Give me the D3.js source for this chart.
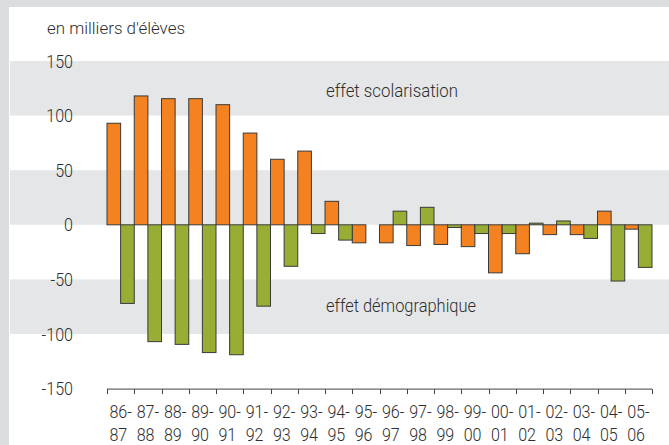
<!DOCTYPE html>
<html><head><meta charset="utf-8">
<script src="https://cdn.jsdelivr.net/npm/d3@7/dist/d3.min.js"></script>
<style>
html,body{margin:0;padding:0;background:#fff;}
svg{display:block;}
text{font-family:Roboto,"Noto Sans",sans-serif;font-weight:300;fill:#2e2e2e;}
</style></head>
<body>
<script>
const categories = ["86-87","87-88","88-89","89-90","90-91","91-92","92-93","93-94","94-95","95-96",
  "96-97","97-98","98-99","99-00","00-01","01-02","02-03","03-04","04-05","05-06"];
const scolarisation = [93,118,115.5,115.5,110,84,60,67.5,21.5,-16.5,-16.5,-19,-18,-20,-44,-26.5,-9,-9,12.5,-4];
const demographique = [-72,-107,-109.5,-117,-119,-74.5,-38,-8,-14,0,12.5,16,-2.5,-8,-8,1.5,3.5,-12.5,-51.5,-39];
const yTicks = [150,100,50,0,-50,-100,-150];
const bands = [[100,150],[0,50],[-100,-50]];
const title = "en milliers d'élèves";
const labelScol = "effet scolarisation";
const labelDemo = "effet démographique";

const W = 669, H = 445;
const SX = 0.87; // horizontal condensing of the text
const svg = d3.select("body").append("svg").attr("width", W).attr("height", H);

svg.append("rect").attr("width", W).attr("height", H).attr("fill", "#dcdddf");
svg.append("rect").attr("x", 9).attr("y", 7).attr("width", W - 9).attr("height", H - 7).attr("fill", "#fff");

const y = d3.scaleLinear().domain([-150, 150]).range([388.6, 61]);
const x = d3.scaleBand().domain(categories).range([107, 652]).padding(0);

svg.selectAll("rect.band").data(bands).enter().append("rect")
  .attr("class", "band")
  .attr("x", 10).attr("width", W - 10)
  .attr("y", d => y(d[1])).attr("height", d => y(d[0]) - y(d[1]))
  .attr("fill", "#e5e6e8");

function label(tx, ty, txt, size, width) {
  const t = svg.append("text").attr("x", tx).attr("y", ty).attr("font-size", size).text(txt);
  if (width) t.attr("textLength", width).attr("lengthAdjust", "spacingAndGlyphs");
  return t;
}
label(47, 34, title, 16, 138);
label(326, 97, labelScol, 18, 132);
label(326, 312, labelDemo, 18, 150);

svg.selectAll("text.ytick").data(yTicks).enter().append("text")
  .attr("class", "ytick")
  .attr("transform", d => `translate(73,${y(d)}) scale(${SX},1)`)
  .attr("dy", "0.36em")
  .attr("text-anchor", "end").attr("font-size", 18.5)
  .text(d => d);

const bw = x.bandwidth() / 2;
svg.selectAll("rect.scol").data(scolarisation).enter().append("rect")
  .attr("class", "scol")
  .attr("x", (d, i) => x(categories[i]))
  .attr("width", bw)
  .attr("y", d => y(Math.max(0, d)))
  .attr("height", d => Math.abs(y(d) - y(0)))
  .attr("fill", "#f58220").attr("stroke", "#3a3a3a").attr("stroke-width", 1);

svg.selectAll("rect.demo").data(demographique).enter().append("rect")
  .attr("class", "demo")
  .attr("x", (d, i) => x(categories[i]) + bw)
  .attr("width", bw)
  .attr("y", d => y(Math.max(0, d)))
  .attr("height", d => Math.abs(y(d) - y(0)))
  .attr("fill", "#97ad34").attr("stroke", "#3a3a3a").attr("stroke-width", 1);

const axisY = y(-150) + 0.5;
const ax = svg.append("g");
ax.append("line").attr("x1", 107).attr("x2", 652).attr("y1", axisY).attr("y2", axisY)
  .attr("stroke", "#444").attr("stroke-width", 1);
const boundaries = categories.map(c => x(c)).concat([x.range()[1]]);
ax.selectAll("line.tick").data(boundaries).enter().append("line")
  .attr("x1", d => Math.round(d) + 0.5).attr("x2", d => Math.round(d) + 0.5)
  .attr("y1", axisY).attr("y2", axisY + 5)
  .attr("stroke", "#444").attr("stroke-width", 1);

categories.forEach(c => {
  const parts = c.split("-");
  const cx = x(c) + x.bandwidth() / 2;
  const g = svg.append("g").attr("transform", `translate(${cx},0) scale(${SX},1)`);
  const t1 = g.append("text").attr("font-size", 18.5).attr("y", 418.5).text(parts[0] + "-");
  const w = t1.node().getComputedTextLength();
  t1.attr("x", -w / 2);
  g.append("text").attr("font-size", 18.5).attr("x", -w / 2).attr("y", 441).text(parts[1]);
});
</script>
</body></html>
